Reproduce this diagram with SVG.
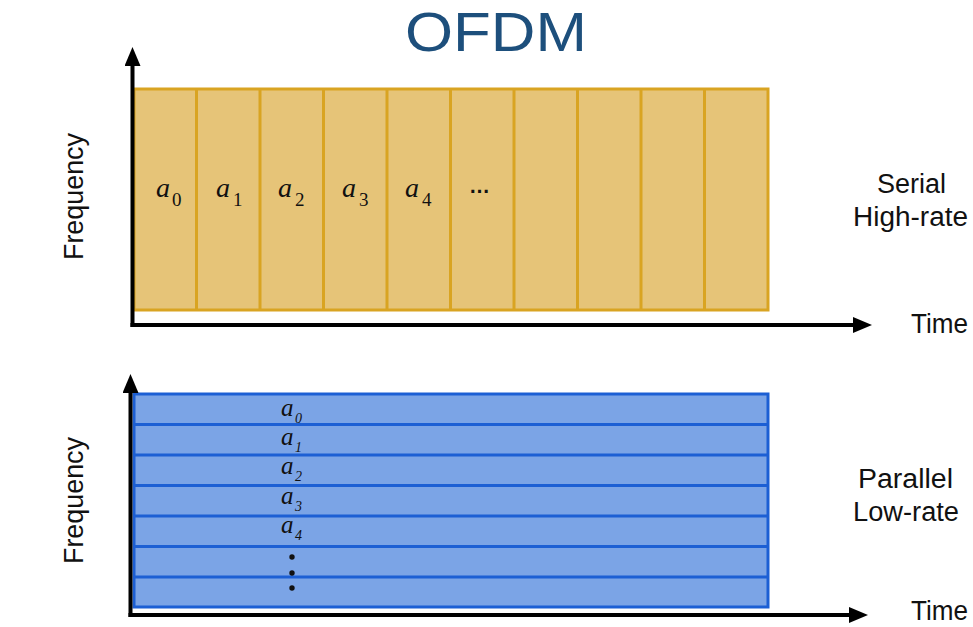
<svg xmlns="http://www.w3.org/2000/svg" width="973" height="627" viewBox="0 0 973 627">
  <style>
    .lbl { font-family: "Liberation Sans", Arial, sans-serif; font-size: 27px; fill: #111; }
    .title { font-family: "Liberation Sans", Arial, sans-serif; font-size: 56px; fill: #1d4f7c; }
    .ser { font-family: "Liberation Serif", "Times New Roman", serif; font-style: italic; font-size: 28px; fill: #111; }
    .sersub { font-family: "Liberation Serif", "Times New Roman", serif; font-style: normal; font-size: 19px; fill: #111; }
    .par { font-family: "Liberation Serif", "Times New Roman", serif; font-style: italic; font-size: 25px; fill: #111; }
    .parsub { font-family: "Liberation Serif", "Times New Roman", serif; font-style: italic; font-size: 14px; fill: #111; }
    .yel { fill: #e6c478; stroke: #d9a422; stroke-width: 3; }
    .yeldiv { stroke: #d9a422; stroke-width: 3; }
    .blu { fill: #7ba4e6; stroke: #1c5fd4; stroke-width: 3; }
    .bludiv { stroke: #1c5fd4; stroke-width: 3; }
    .axis { stroke: #000; stroke-width: 4; fill: none; }
  </style>
  <defs>
    <marker id="arr" markerUnits="userSpaceOnUse" markerWidth="19" markerHeight="16" refX="2" refY="8" orient="auto">
      <path d="M0,0 L19,8 L0,16 z" fill="#000"/>
    </marker>
  </defs>

  <g id="title">
    <text class="title" x="405" y="51" textLength="182" lengthAdjust="spacingAndGlyphs">OFDM</text>
  </g>

  <g id="serial-panel">
    <rect class="yel" x="134" y="89" width="634" height="221"/>
    <g>
      <line class="yeldiv" x1="196.5" y1="89" x2="196.5" y2="310"/>
      <line class="yeldiv" x1="260" y1="89" x2="260" y2="310"/>
      <line class="yeldiv" x1="323.5" y1="89" x2="323.5" y2="310"/>
      <line class="yeldiv" x1="387" y1="89" x2="387" y2="310"/>
      <line class="yeldiv" x1="450.5" y1="89" x2="450.5" y2="310"/>
      <line class="yeldiv" x1="514" y1="89" x2="514" y2="310"/>
      <line class="yeldiv" x1="577.5" y1="89" x2="577.5" y2="310"/>
      <line class="yeldiv" x1="641" y1="89" x2="641" y2="310"/>
      <line class="yeldiv" x1="704.5" y1="89" x2="704.5" y2="310"/>
    </g>
    <text class="ser" x="156" y="197">a<tspan class="sersub" x="172" y="206">0</tspan></text>
    <text class="ser" x="216" y="197">a<tspan class="sersub" x="233" y="206">1</tspan></text>
    <text class="ser" x="278" y="197">a<tspan class="sersub" x="295" y="206">2</tspan></text>
    <text class="ser" x="342" y="197">a<tspan class="sersub" x="359" y="206">3</tspan></text>
    <text class="ser" x="405" y="197">a<tspan class="sersub" x="422" y="206">4</tspan></text>
    <text x="469" y="193" font-family="Liberation Sans, Arial, sans-serif" font-weight="bold" font-size="22" fill="#111" textLength="21" lengthAdjust="spacingAndGlyphs">…</text>
  </g>

  <g id="parallel-panel">
    <rect class="blu" x="134" y="394" width="634" height="213"/>
    <g>
      <line class="bludiv" x1="134" y1="424.5" x2="768" y2="424.5"/>
      <line class="bludiv" x1="134" y1="455" x2="768" y2="455"/>
      <line class="bludiv" x1="134" y1="485.5" x2="768" y2="485.5"/>
      <line class="bludiv" x1="134" y1="516" x2="768" y2="516"/>
      <line class="bludiv" x1="134" y1="546.5" x2="768" y2="546.5"/>
      <line class="bludiv" x1="134" y1="577" x2="768" y2="577"/>
    </g>
    <text class="par" x="281" y="416">a<tspan class="parsub" x="295" y="423">0</tspan></text>
    <text class="par" x="281" y="445">a<tspan class="parsub" x="295" y="452">1</tspan></text>
    <text class="par" x="281" y="474">a<tspan class="parsub" x="295" y="481">2</tspan></text>
    <text class="par" x="281" y="504">a<tspan class="parsub" x="295" y="511">3</tspan></text>
    <text class="par" x="281" y="533">a<tspan class="parsub" x="295" y="540">4</tspan></text>
    <circle cx="292" cy="557" r="2.7" fill="#111"/>
    <circle cx="292" cy="573" r="2.7" fill="#111"/>
    <circle cx="292" cy="588" r="2.7" fill="#111"/>
  </g>

  <g id="connectors">
    <line class="axis" x1="132.5" y1="327" x2="132.5" y2="64" marker-end="url(#arr)"/>
    <line class="axis" x1="130.5" y1="325" x2="855" y2="325" marker-end="url(#arr)"/>
    <line class="axis" x1="130.5" y1="617" x2="130.5" y2="391" marker-end="url(#arr)"/>
    <line class="axis" x1="128.5" y1="615" x2="851" y2="615" marker-end="url(#arr)"/>
  </g>

  <g id="labels">
    <text class="lbl" transform="translate(83,196.5) rotate(-90)" text-anchor="middle" font-size="29" textLength="127" lengthAdjust="spacingAndGlyphs">Frequency</text>
    <text class="lbl" transform="translate(83,500.5) rotate(-90)" text-anchor="middle" font-size="29" textLength="127" lengthAdjust="spacingAndGlyphs">Frequency</text>
    <text class="lbl" x="877" y="193" textLength="69" lengthAdjust="spacingAndGlyphs">Serial</text>
    <text class="lbl" x="853" y="226" textLength="115" lengthAdjust="spacingAndGlyphs">High-rate</text>
    <text class="lbl" x="911" y="333" font-size="28" textLength="57" lengthAdjust="spacingAndGlyphs">Time</text>
    <text class="lbl" x="858" y="488" textLength="95" lengthAdjust="spacingAndGlyphs">Parallel</text>
    <text class="lbl" x="853" y="521" textLength="106" lengthAdjust="spacingAndGlyphs">Low-rate</text>
    <text class="lbl" x="911" y="620" font-size="27" textLength="57" lengthAdjust="spacingAndGlyphs">Time</text>
  </g>
</svg>
